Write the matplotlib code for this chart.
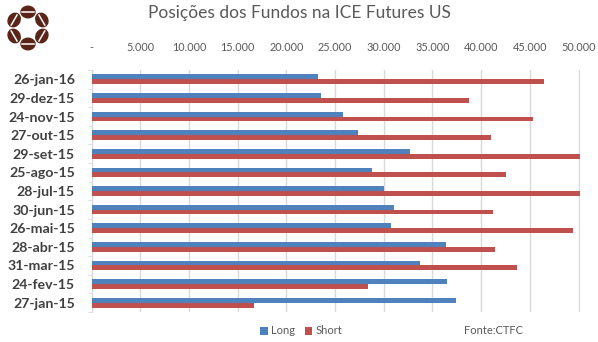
import numpy as np
import matplotlib
matplotlib.use("Agg")
import matplotlib.pyplot as plt
from matplotlib.patches import Ellipse
from matplotlib.ticker import FuncFormatter, FixedLocator

# dados (de cima para baixo)
categories = [
    "26-jan-16", "29-dez-15", "24-nov-15", "27-out-15", "29-set-15",
    "25-ago-15", "28-jul-15", "30-jun-15", "26-mai-15", "28-abr-15",
    "31-mar-15", "24-fev-15", "27-jan-15",
]
long_pos = [23250, 23550, 25800, 27350, 32700, 28800, 30000,
            31050, 30750, 36400, 33700, 36500, 37400]
short_pos = [46450, 38750, 45300, 41000, 50300, 42550, 50300,
             41200, 49450, 41400, 43700, 28400, 16650]
x_ticks = [0, 5000, 10000, 15000, 20000, 25000, 30000,
           35000, 40000, 45000, 50000]

BLUE = "#4F81BD"
RED = "#C0504D"
GRID = "#D9D9D9"
TXT = "#595959"

plt.rcParams["font.family"] = ["Lato", "DejaVu Sans"]

W, H = 598, 342
fig = plt.figure(figsize=(W / 100, H / 100), dpi=100)
ax = fig.add_axes([91.6 / W, 30 / H, 488.4 / W, 242 / H])

y = np.arange(len(categories))
bh = 0.26
ax.barh(y - bh / 2, long_pos, height=bh, color=BLUE, label="Long", zorder=3)
ax.barh(y + bh / 2, short_pos, height=bh, color=RED, label="Short", zorder=3)

ax.set_ylim(len(categories) - 0.5, -0.5)
ax.set_xlim(0, 50150)

ax.xaxis.tick_top()
ax.set_xticks(x_ticks)
ax.xaxis.set_major_formatter(
    FuncFormatter(lambda v, p: "-" if v == 0 else f"{int(v):,}".replace(",", "."))
)
ax.tick_params(axis="x", length=0, pad=12, labelsize=7.8, labelcolor=TXT)
ax.grid(axis="x", color=GRID, lw=1, zorder=0)

ax.set_yticks(y)
ax.set_yticklabels(categories, fontsize=10.2, fontweight="bold", color="#404040")
ax.tick_params(axis="y", length=0, pad=12)
ax.yaxis.set_minor_locator(FixedLocator(np.arange(-0.5, len(categories), 1)))
ax.tick_params(axis="y", which="minor", length=3, color=GRID)

for s in ["top", "right", "bottom"]:
    ax.spines[s].set_visible(False)
ax.spines["left"].set_color(GRID)

fig.text(0.5, 1 - 13 / H, "Posições dos Fundos na ICE Futures US",
         ha="center", va="center", fontsize=12.5, color=TXT)

fig.legend(loc="center", bbox_to_anchor=(301 / W, 1 - 331 / H), ncol=2,
           frameon=False, fontsize=8, handlelength=0.7, handleheight=0.7,
           handletextpad=0.25, columnspacing=0.9, labelcolor=TXT)
fig.text(464 / W, 1 - 331 / H, "Fonte:CTFC", ha="left", va="center",
         fontsize=8, color=TXT)

# logo (grãos de café)
lg = fig.add_axes([0, 1 - 56 / H, 56 / W, 56 / H])
lg.set_xlim(0, 56)
lg.set_ylim(0, 56)
lg.axis("off")
for ang in [90, 30, -30, -90, -150, 150]:
    t = np.radians(ang)
    cx, cy = 28 + 16 * np.cos(t), 28 + 16 * np.sin(t)
    lg.add_patch(Ellipse((cx, cy), 14, 11.5, angle=ang + 90, color="#5B2418"))
    dx, dy = 5.8 * np.cos(t + np.pi / 2), 5.8 * np.sin(t + np.pi / 2)
    lg.plot([cx - dx, cx + dx], [cy - dy, cy + dy], color="white", lw=1.1)

fig.savefig("out.png", dpi=100)
